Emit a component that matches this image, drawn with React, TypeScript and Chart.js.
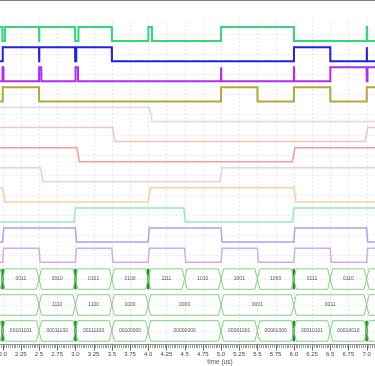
import React, { useEffect, useRef } from "react";
import { Chart, registerables } from "chart.js";
Chart.register(...registerables);

// ---------- data (time in microseconds) ----------
const timeMin = 1.9643;
const timeMax = 7.1154;

// digital signals: initial level and toggle times
const sig1Init = 1;
const sig1Edges = [1.996, 2.03, 2.5, 2.503, 2.995, 3.04, 3.5, 4.0, 4.05, 5.0, 6.0, 7.0, 7.006];
const sig2Init = 0;
const sig2Edges = [2.0, 2.5, 2.503, 2.995, 3.01, 3.5, 6.0, 6.5, 7.0, 7.004];
const sig3Init = 0;
const sig3Edges = [1.997, 2.01, 2.5, 2.53, 3.0, 3.035, 5.0, 5.003, 6.0, 6.003, 6.5, 7.0, 7.01];
const sig4Init = 0;
const sig4Edges = [2.0, 2.5, 5.0, 5.5, 6.0, 6.5, 7.0];
const sig5Init = 1;
const sig5Edges = [4.02];
const sig6Init = 1;
const sig6Edges = [3.51, 6.98];
const sig7Init = 1;
const sig7Edges = [3.02, 5.98];
const sig8Init = 1;
const sig8Edges = [2.52, 4.98];
const sig9Init = 1;
const sig9Edges = [2.0, 4.0, 6.0];
const sig10Init = 0;
const sig10Edges = [2.98, 4.49, 5.98];
const sig11Init = 0;
const sig11Edges = [2.0, 3.0, 4.0, 5.0, 6.0, 7.0];
const sig12Init = 0;
const sig12Edges = [2.0, 2.5, 3.0, 3.5, 4.0, 4.5, 5.0, 5.5, 6.0, 6.5, 7.0];

const signalInits = [sig1Init, sig2Init, sig3Init, sig4Init, sig5Init, sig6Init, sig7Init, sig8Init, sig9Init, sig10Init, sig11Init, sig12Init];
const signalEdges = [sig1Edges, sig2Edges, sig3Edges, sig4Edges, sig5Edges, sig6Edges, sig7Edges, sig8Edges, sig9Edges, sig10Edges, sig11Edges, sig12Edges];

// buses: segment boundaries, values, glitch times
const bus1Bounds = [1.5, 2.0, 2.5, 3.0, 3.5, 4.0, 4.5, 5.0, 5.5, 6.0, 6.5, 7.0, 7.5];
const bus1Labels = ["", "0011", "0010", "0101", "0100", "1111", "1010", "1001", "1000", "0111", "0110", ""];
const bus1Glitches = [2.0, 3.0, 4.0, 6.0];
const bus2Bounds = [1.0, 2.5, 3.0, 3.5, 4.0, 5.0, 6.0, 7.0, 8.0];
const bus2Labels = ["", "1110", "1100", "1000", "0000", "0001", "0011", ""];
const bus2Glitches: number[] = [];
const bus3Bounds = [1.5, 2.0, 2.5, 3.0, 3.5, 4.0, 5.0, 5.5, 6.0, 6.5, 7.0, 7.5];
const bus3Labels = ["", "00101101", "00011100", "00111100", "00100000", "00000000", "00001001", "00001000", "00010101", "00010010", ""];
const bus3Glitches = [2.0, 3.0, 6.0, 7.0];

const busBounds = [bus1Bounds, bus2Bounds, bus3Bounds];
const busLabels = [bus1Labels, bus2Labels, bus3Labels];
const busGlitches = [bus1Glitches, bus2Glitches, bus3Glitches];

// ---------- styles / layout ----------
const signalColors = ["#33d67c", "#1f1ff0", "#b02cf2", "#b5a73a", "#dcd8ea", "#efc7bb", "#ff9a9a", "#ebcdee", "#ffcf9f", "#98eabd", "#a4a4ff", "#d3a9f3"];
const signalWidths = [2, 2, 2, 2, 1.5, 1.5, 1.5, 1.5, 1.5, 1.5, 1.5, 1.5];
const signalRamps = [0.002, 0.002, 0.002, 0.002, 0.035, 0.035, 0.035, 0.035, 0.03, 0.02, 0.015, 0.015];
const busColor = "#86cf86";
const busGlitchColor = "#1c921c";

const ROW_TOP = 0.3;
const ROW_PITCH = 1;
const ROW_AMP = 0.7;
const BUS_FIRST = 12.84;
const BUS_PITCH = 1.29;
const BUS_HALF = 0.51;
const BUS_SLANT = 0.035;
const Y_MAX = 16.02;
const FONT = "'Liberation Sans', Arial, sans-serif";

function buildDatasets() {
  const ds: any[] = [];
  signalEdges.forEach((edges, i) => {
    const hi = ROW_TOP + i * ROW_PITCH;
    const lo = hi + ROW_AMP;
    const yOf = (lv: number) => (lv ? hi : lo);
    let cur = signalInits[i];
    const pts: { x: number; y: number }[] = [{ x: timeMin - 0.3, y: yOf(cur) }];
    const ramp = signalRamps[i];
    edges.forEach((t) => {
      pts.push({ x: t, y: yOf(cur) });
      cur = 1 - cur;
      pts.push({ x: t + ramp, y: yOf(cur) });
    });
    pts.push({ x: timeMax + 0.3, y: yOf(cur) });
    ds.push({
      data: pts,
      borderColor: signalColors[i],
      borderWidth: signalWidths[i],
      pointRadius: 0,
      tension: 0,
      fill: false,
      borderJoinStyle: "miter",
    });
  });
  busBounds.forEach((bounds, b) => {
    const c = BUS_FIRST + b * BUS_PITCH;
    const top = c - BUS_HALF;
    const bot = c + BUS_HALF;
    for (let j = 0; j < bounds.length - 1; j++) {
      const s = bounds[j];
      const e = bounds[j + 1];
      ds.push({
        data: [
          { x: s, y: c },
          { x: s + BUS_SLANT, y: top },
          { x: e - BUS_SLANT, y: top },
          { x: e, y: c },
          { x: e - BUS_SLANT, y: bot },
          { x: s + BUS_SLANT, y: bot },
          { x: s, y: c },
        ],
        borderColor: busColor,
        borderWidth: 1,
        pointRadius: 0,
        tension: 0,
        fill: false,
      });
    }
    busGlitches[b].forEach((t) => {
      ds.push({
        data: [
          { x: t, y: top },
          { x: t, y: bot },
        ],
        borderColor: busGlitchColor,
        borderWidth: 2.5,
        pointRadius: 0,
        tension: 0,
        fill: false,
      });
    });
  });
  return ds;
}

const gridPlugin = {
  id: "timingGrid",
  beforeDatasetsDraw(chart: any) {
    const { ctx, chartArea: ca, scales } = chart;
    const xs = scales.x;
    const ys = scales.y;
    ctx.save();
    ctx.lineWidth = 1;
    ctx.setLineDash([2, 2]);
    ctx.strokeStyle = "#e6e6e6";
    for (let k = Math.ceil(timeMin * 4); k / 4 <= timeMax; k++) {
      const px = Math.round(xs.getPixelForValue(k / 4)) + 0.5;
      ctx.beginPath();
      ctx.moveTo(px, ca.top);
      ctx.lineTo(px, ca.bottom);
      ctx.stroke();
    }
    const centers: number[] = [];
    signalEdges.forEach((_, i) => centers.push(ROW_TOP + i * ROW_PITCH + ROW_AMP / 2));
    busBounds.forEach((_, b) => centers.push(BUS_FIRST + b * BUS_PITCH));
    ctx.strokeStyle = "#ececec";
    centers.forEach((v) => {
      const py = Math.round(ys.getPixelForValue(v)) + 0.5;
      ctx.beginPath();
      ctx.moveTo(ca.left, py);
      ctx.lineTo(ca.right, py);
      ctx.stroke();
    });
    ctx.restore();
  },
  afterDatasetsDraw(chart: any) {
    const { ctx, chartArea: ca, scales } = chart;
    const xs = scales.x;
    const ys = scales.y;
    ctx.save();
    ctx.beginPath();
    ctx.rect(ca.left, ca.top, ca.right - ca.left, ca.bottom - ca.top);
    ctx.clip();
    ctx.fillStyle = "#555";
    ctx.font = `5px ${FONT}`;
    ctx.textAlign = "center";
    ctx.textBaseline = "middle";
    busBounds.forEach((bounds, b) => {
      const py = ys.getPixelForValue(BUS_FIRST + b * BUS_PITCH);
      for (let j = 0; j < bounds.length - 1; j++) {
        const lbl = busLabels[b][j];
        if (!lbl) continue;
        const px = xs.getPixelForValue((bounds[j] + bounds[j + 1]) / 2);
        ctx.fillText(lbl, px, py);
      }
    });
    ctx.restore();
  },
  afterDraw(chart: any) {
    const { ctx, chartArea: ca, scales, width } = chart;
    const xs = scales.x;
    ctx.save();
    // top frame line
    ctx.fillStyle = "#7c7c7c";
    ctx.fillRect(0, 0, width, 1);
    // ruler axis
    const y0 = ca.bottom + 1.5;
    ctx.strokeStyle = "#8c8c8c";
    ctx.lineWidth = 1;
    ctx.beginPath();
    ctx.moveTo(ca.left, y0);
    ctx.lineTo(ca.right, y0);
    ctx.stroke();
    for (let k = Math.ceil(timeMin * 40); k / 40 <= timeMax; k++) {
      const px = Math.round(xs.getPixelForValue(k / 40)) + 0.5;
      const major = k % 10 === 0;
      ctx.strokeStyle = major ? "#6a6a6a" : "#9a9a9a";
      ctx.beginPath();
      ctx.moveTo(px, y0);
      ctx.lineTo(px, y0 + (major ? 6 : 3.5));
      ctx.stroke();
    }
    ctx.fillStyle = "#444";
    ctx.font = `6px ${FONT}`;
    ctx.textAlign = "center";
    ctx.textBaseline = "middle";
    for (let k = Math.ceil(timeMin * 4); k / 4 <= timeMax; k++) {
      const v = k / 4;
      const txt = k % 4 === 0 ? v.toFixed(1) : String(v);
      ctx.fillText(txt, xs.getPixelForValue(v), ca.bottom + 11);
    }
    ctx.fillStyle = "#555";
    ctx.font = `6.5px ${FONT}`;
    ctx.fillText("time (us)", 220, ca.bottom + 19.5);
    ctx.restore();
  },
};

export default function App() {
  const ref = useRef<HTMLCanvasElement | null>(null);
  useEffect(() => {
    document.body.style.margin = "0";
    if (!ref.current) return;
    const chart = new Chart(ref.current, {
      type: "line",
      data: { datasets: buildDatasets() },
      options: {
        animation: false,
        responsive: false,
        maintainAspectRatio: false,
        devicePixelRatio: 1,
        events: [],
        layout: { padding: { top: 21, bottom: 23, left: 0, right: 0 } },
        plugins: { legend: { display: false }, tooltip: { enabled: false } },
        scales: {
          x: { type: "linear", min: timeMin, max: timeMax, display: false },
          y: { type: "linear", min: 0, max: Y_MAX, reverse: true, display: false },
        },
      },
      plugins: [gridPlugin],
    });
    return () => chart.destroy();
  }, []);
  return (
    <div style={{ width: 375, height: 366, background: "#fff" }}>
      <canvas ref={ref} width={375} height={366} style={{ display: "block" }} />
    </div>
  );
}
